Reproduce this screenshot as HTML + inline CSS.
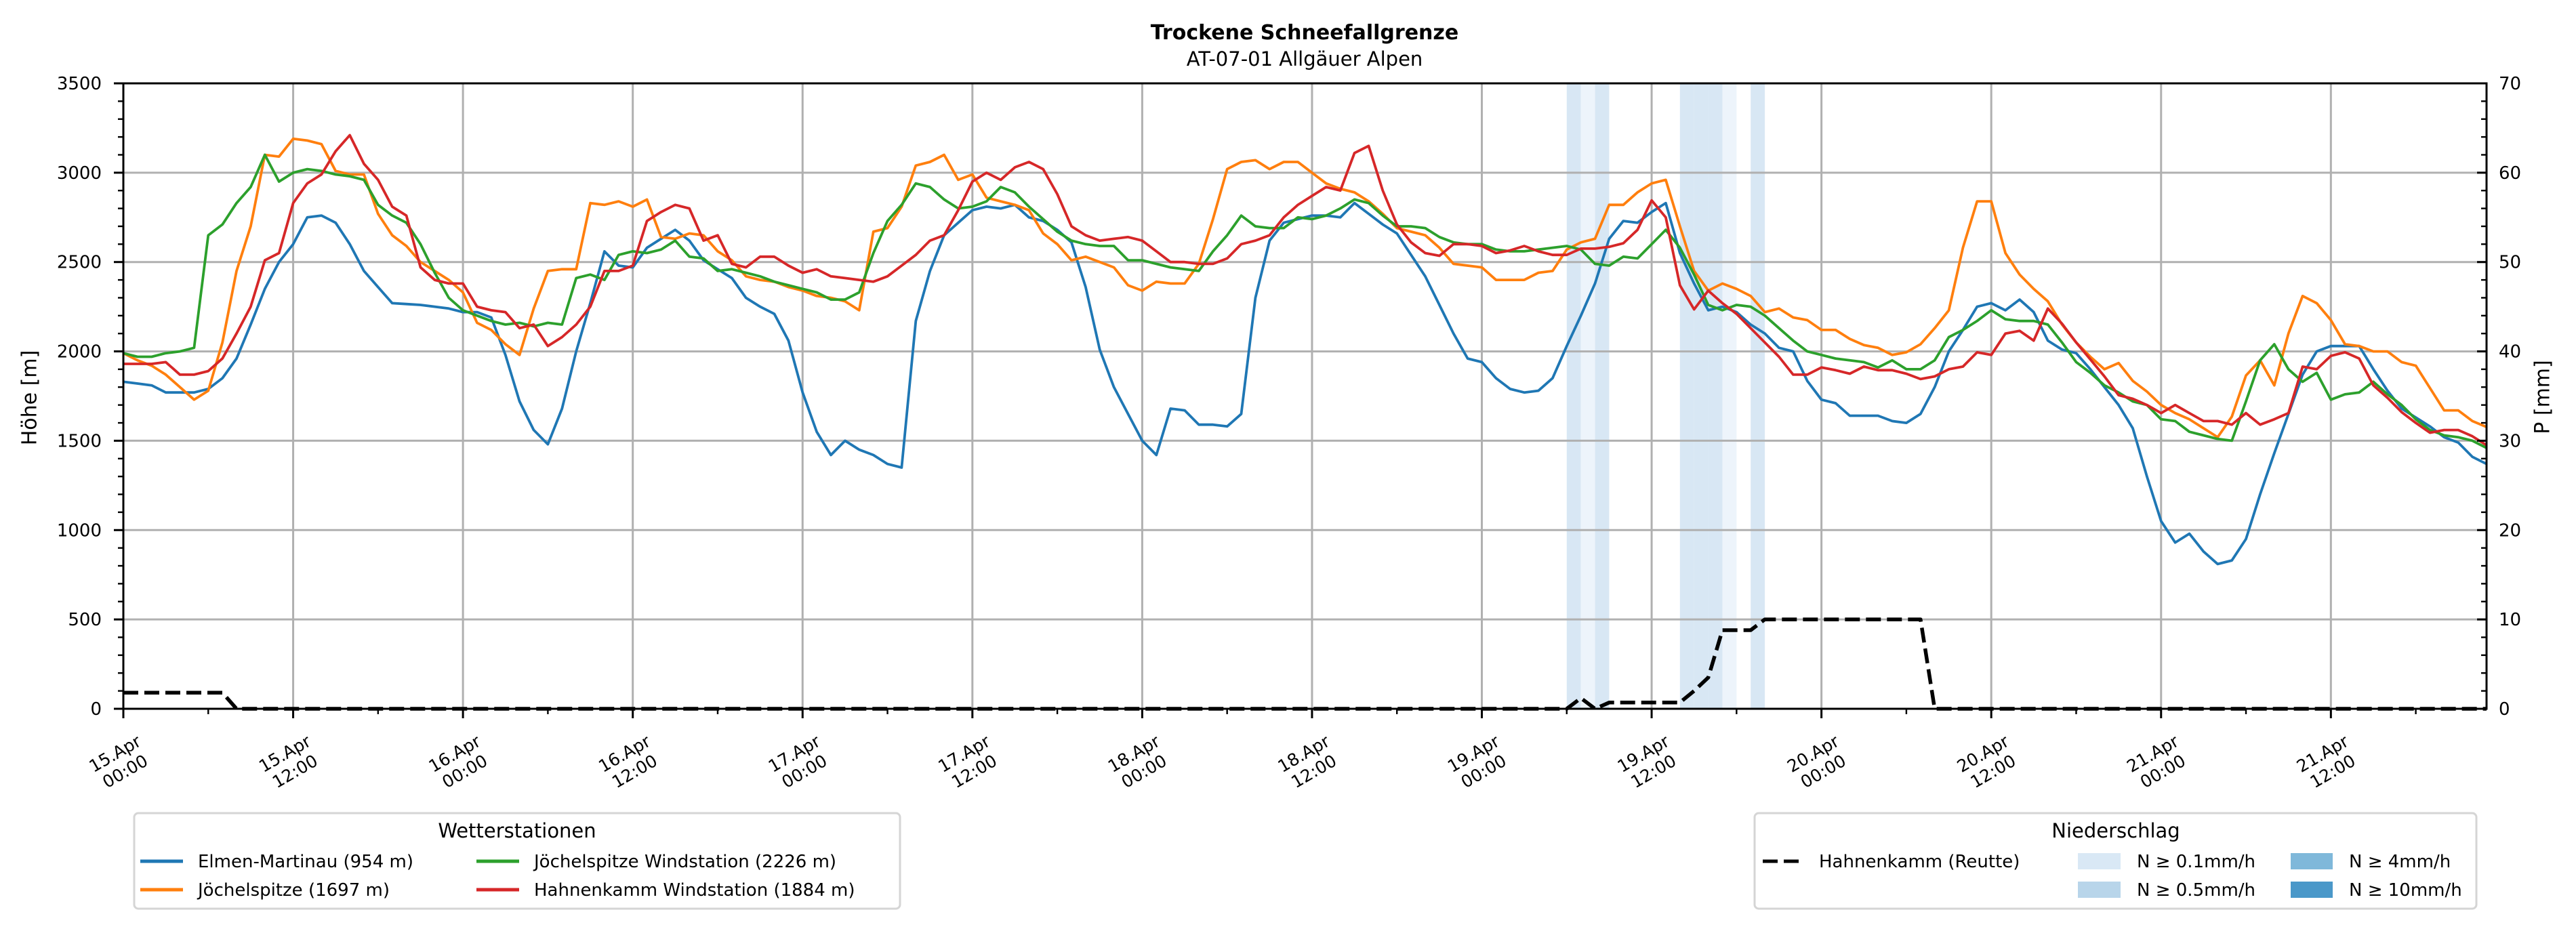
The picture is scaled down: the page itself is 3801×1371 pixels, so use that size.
<!DOCTYPE html>
<html><head><meta charset="utf-8">
<style>
html,body{margin:0;padding:0;background:#fff;}
svg{display:block;font-family:"DejaVu Sans","Liberation Sans",sans-serif;}
</style></head>
<body>
<svg id="chart" width="3801" height="1371" viewBox="0 0 3801 1371" xmlns="http://www.w3.org/2000/svg">
  <rect x="0" y="0" width="3801" height="1371" fill="#fff"/>
  <text x="1925" y="58" text-anchor="middle" font-size="30" font-weight="bold">Trockene Schneefallgrenze</text>
  <text x="1925" y="97" text-anchor="middle" font-size="29">AT-07-01 Allgäuer Alpen</text>
  <g id="bg"></g>
  <g id="grid"></g>
  <g id="series"></g>
  <g id="axes"></g>
  <text x="45" y="587" text-anchor="middle" dominant-baseline="middle" font-size="30" transform="rotate(-90 45 587)">Höhe [m]</text>
  <text x="3753" y="586" text-anchor="middle" dominant-baseline="middle" font-size="30" transform="rotate(-90 3753 586)">P [mm]</text>

  <g>
    <rect x="198" y="1200" width="1130" height="141" rx="6" fill="#fff" stroke="#d5d5d5" stroke-width="3"/>
    <text x="763" y="1236" text-anchor="middle" font-size="29">Wetterstationen</text>
    <g><line x1="207" y1="1271" x2="270" y2="1271" stroke="#1f77b4" stroke-width="5"/><text x="292" y="1280" font-size="26">Elmen-Martinau (954 m)</text></g>
    <g><line x1="207" y1="1313" x2="270" y2="1313" stroke="#ff7f0e" stroke-width="5"/><text x="292" y="1322" font-size="26">Jöchelspitze (1697 m)</text></g>
    <g><line x1="703" y1="1271" x2="766" y2="1271" stroke="#2ca02c" stroke-width="5"/><text x="788" y="1280" font-size="26">Jöchelspitze Windstation (2226 m)</text></g>
    <g><line x1="703" y1="1313" x2="766" y2="1313" stroke="#d62728" stroke-width="5"/><text x="788" y="1322" font-size="26">Hahnenkamm Windstation (1884 m)</text></g>
  </g>
  <g>
    <rect x="2589" y="1200" width="1065" height="141" rx="6" fill="#fff" stroke="#d5d5d5" stroke-width="3"/>
    <text x="3122" y="1236" text-anchor="middle" font-size="29">Niederschlag</text>
    <g><line x1="2601" y1="1271" x2="2657" y2="1271" stroke="#000" stroke-width="5" stroke-dasharray="22,9"/><text x="2684" y="1280" font-size="26">Hahnenkamm (Reutte)</text></g>
    <g><rect x="3066" y="1259" width="63" height="24" fill="#d9e8f5"/><text x="3153" y="1280" font-size="26">N ≥ 0.1mm/h</text></g>
    <g><rect x="3066" y="1301" width="63" height="24" fill="#b8d5ea"/><text x="3153" y="1322" font-size="26">N ≥ 0.5mm/h</text></g>
    <g><rect x="3380" y="1259" width="62" height="24" fill="#7fb8da"/><text x="3466" y="1280" font-size="26">N ≥ 4mm/h</text></g>
    <g><rect x="3380" y="1301" width="62" height="24" fill="#4a98c9"/><text x="3466" y="1322" font-size="26">N ≥ 10mm/h</text></g>
  </g>
</svg>
<script>
// ---- data (hourly from 15.Apr 00:00) ----
const elmen = [1830,1820,1810,1770,1770,1770,1790,1850,1960,2150,2350,2500,2600,2750,2760,2720,2600,2450,2360,2270,2265,2260,2250,2240,2220,2220,2190,1980,1720,1560,1480,1680,2000,2270,2560,2480,2470,2580,2630,2680,2620,2510,2460,2410,2300,2250,2210,2060,1770,1550,1420,1500,1450,1420,1370,1350,2170,2450,2650,2720,2790,2810,2800,2820,2750,2730,2680,2610,2360,2010,1800,1650,1500,1420,1680,1670,1590,1590,1580,1650,2300,2620,2720,2740,2760,2760,2750,2830,2770,2710,2660,2540,2420,2260,2100,1960,1940,1850,1790,1770,1780,1850,2030,2200,2380,2630,2730,2720,2780,2830,2550,2380,2230,2250,2220,2150,2100,2020,2000,1835,1730,1710,1640,1640,1640,1610,1600,1650,1800,2000,2120,2250,2270,2230,2290,2220,2060,2010,1990,1900,1800,1700,1570,1300,1050,930,980,880,810,830,950,1200,1430,1650,1870,2000,2030,2030,2030,1900,1780,1680,1630,1580,1520,1490,1410,1370];
const joechel = [1990,1950,1920,1870,1800,1730,1780,2050,2450,2700,3100,3090,3190,3180,3160,3010,2990,2990,2770,2650,2590,2500,2450,2400,2330,2160,2120,2040,1980,2240,2450,2460,2460,2830,2820,2840,2810,2850,2640,2630,2660,2650,2560,2510,2420,2400,2390,2360,2340,2310,2300,2280,2230,2670,2690,2810,3040,3060,3100,2960,2990,2860,2840,2820,2790,2660,2600,2510,2530,2500,2470,2370,2340,2390,2380,2380,2490,2740,3020,3060,3070,3020,3060,3060,3000,2940,2910,2890,2840,2770,2690,2670,2650,2580,2490,2480,2470,2400,2400,2400,2440,2450,2570,2610,2630,2820,2820,2890,2940,2960,2700,2450,2340,2380,2350,2310,2220,2240,2190,2175,2120,2120,2070,2035,2020,1980,1995,2040,2130,2230,2580,2840,2840,2550,2430,2350,2280,2150,2050,1970,1900,1935,1835,1775,1700,1655,1620,1570,1520,1635,1865,1950,1810,2100,2310,2270,2175,2040,2030,2000,2000,1940,1920,1795,1670,1670,1610,1577];
const joechelWind = [1990,1970,1970,1990,2000,2020,2650,2710,2830,2920,3100,2950,3000,3020,3010,2990,2980,2960,2820,2760,2720,2600,2440,2300,2230,2200,2170,2150,2160,2140,2160,2150,2410,2430,2400,2540,2560,2550,2570,2620,2530,2520,2450,2460,2440,2420,2390,2370,2350,2330,2290,2290,2330,2550,2730,2820,2940,2920,2850,2800,2810,2840,2920,2890,2810,2740,2670,2620,2600,2590,2590,2510,2510,2490,2470,2460,2450,2560,2650,2760,2700,2690,2690,2750,2740,2760,2800,2850,2830,2760,2700,2700,2690,2640,2610,2600,2600,2570,2560,2560,2570,2580,2590,2570,2490,2480,2530,2520,2600,2680,2580,2430,2260,2230,2260,2250,2200,2130,2060,2000,1980,1960,1950,1940,1910,1950,1900,1900,1950,2080,2120,2170,2230,2180,2170,2170,2150,2050,1940,1880,1810,1770,1720,1700,1620,1610,1550,1530,1510,1500,1720,1950,2040,1900,1830,1880,1730,1760,1770,1830,1760,1700,1620,1560,1530,1520,1500,1460];
const hahnWind = [1930,1930,1930,1940,1870,1870,1890,1960,2100,2250,2510,2550,2830,2940,2990,3120,3210,3050,2960,2810,2760,2470,2400,2380,2380,2250,2230,2220,2130,2150,2030,2080,2150,2250,2450,2450,2480,2730,2780,2820,2800,2620,2650,2490,2470,2530,2530,2480,2440,2460,2420,2410,2400,2390,2420,2480,2540,2620,2650,2790,2950,3000,2960,3030,3060,3020,2880,2700,2650,2620,2630,2640,2620,2560,2500,2500,2490,2490,2520,2600,2620,2650,2750,2820,2870,2920,2900,3110,3150,2900,2710,2610,2550,2535,2600,2600,2590,2550,2565,2590,2560,2540,2540,2575,2575,2585,2605,2680,2845,2750,2370,2235,2340,2270,2210,2130,2050,1970,1870,1870,1910,1895,1875,1915,1895,1895,1875,1845,1860,1900,1915,1995,1980,2100,2115,2060,2240,2155,2050,1955,1860,1755,1735,1700,1655,1700,1655,1610,1610,1590,1655,1590,1620,1655,1915,1900,1975,1995,1960,1810,1740,1660,1600,1545,1560,1560,1525,1475];
// cumulative precipitation Hahnenkamm (Reutte) in mm
const precip = [1.8,1.8,1.8,1.8,1.8,1.8,1.8,1.8,0,0,0,0,0,0,0,0,0,0,0,0,0,0,0,0,0,0,0,0,0,0,0,0,0,0,0,0,0,0,0,0,0,0,0,0,0,0,0,0,0,0,0,0,0,0,0,0,0,0,0,0,0,0,0,0,0,0,0,0,0,0,0,0,0,0,0,0,0,0,0,0,0,0,0,0,0,0,0,0,0,0,0,0,0,0,0,0,0,0,0,0,0,0,0,1.2,0,0.7,0.7,0.7,0.7,0.7,0.7,2.0,3.5,8.8,8.8,8.8,10,10,10,10,10,10,10,10,10,10,10,10,0,0,0,0,0,0,0,0,0,0,0,0,0,0,0,0,0,0,0,0,0,0,0,0,0,0,0,0,0,0,0,0,0,0,0,0,0,0,0,0];
// hourly precipitation intensity spans (start hour, mm/h)
const rainHours = [102,103,104,110,111,112,113,115];
const rainRate  = [0.3,0.05,0.3,0.3,0.3,0.3,0.05,0.3];
const yTicks = [0,500,1000,1500,2000,2500,3000,3500];
const y2Ticks = [0,10,20,30,40,50,60,70];
const xTickDays = ["15.Apr","15.Apr","16.Apr","16.Apr","17.Apr","17.Apr","18.Apr","18.Apr","19.Apr","19.Apr","20.Apr","20.Apr","21.Apr","21.Apr"];
const xTickTimes = ["00:00","12:00","00:00","12:00","00:00","12:00","00:00","12:00","00:00","12:00","00:00","12:00","00:00","12:00"];

// ---- scales ----
const L=182,R=3669,T=123,B=1046, H0=0,H1=167;
const x = h => L + (h-H0)/(H1-H0)*(R-L);
const y = v => B - v/3500*(B-T);
const y2 = v => B - v/70*(B-T);
const NS="http://www.w3.org/2000/svg";
function mk(tag, attrs, parent){const e=document.createElementNS(NS,tag);for(const k in attrs)e.setAttribute(k,attrs[k]);parent.appendChild(e);return e;}
const bg=document.getElementById('bg'), grid=document.getElementById('grid'), ser=document.getElementById('series'), axes=document.getElementById('axes');

// rain spans
rainHours.forEach((h,i)=>{
  const r=mk('rect',{x:x(h),y:T,width:x(h+1)-x(h),height:B-T,fill:rainRate[i]>=0.1?'#d8e7f4':'#edf4fb'},bg);
  
  
});
// grid
yTicks.forEach(v=>{ if(v>0&&v<3500){const g=mk('line',{x1:L,x2:R,y1:y(v),y2:y(v),stroke:'#b0b0b0','stroke-width':3},grid);
  
  }});
for(let h=12;h<H1;h+=12){const g=mk('line',{x1:x(h),x2:x(h),y1:T,y2:B,stroke:'#b0b0b0','stroke-width':3},grid);
  
  }

// series
function line(arr, scale, color, name, dash){
  const d=arr.map((v,i)=>(i?'L':'M')+x(i).toFixed(1)+' '+scale(v).toFixed(1)).join(' ');
  const p=mk('path',{d:d,fill:'none',stroke:color,'stroke-width':dash?5.5:3.8,'stroke-linejoin':'round'},ser);
  if(dash)p.setAttribute('stroke-dasharray',dash);
  
  
}
line(elmen,y,'#1f77b4','elmen-line');
line(joechel,y,'#ff7f0e','joechelspitze-line');
line(joechelWind,y,'#2ca02c','joechelspitze-wind-line');
line(hahnWind,y,'#d62728','hahnenkamm-wind-line');
line(precip,y2,'#000','hahnenkamm-precip-line','22,9');

// axes frame
const fr=mk('rect',{x:L,y:T,width:R-L,height:B-T,fill:'none',stroke:'#000','stroke-width':3},axes);


// left ticks
for(let v=0;v<=3500;v+=100){const maj=v%500===0;mk('line',{x1:L-(maj?14:8),x2:L,y1:y(v),y2:y(v),stroke:'#000','stroke-width':maj?3:2.4},axes);}
yTicks.forEach(v=>{const t=mk('text',{x:150,y:y(v)+9,'text-anchor':'end','font-size':26},axes);t.textContent=v;
  
  });
// right ticks (inward)
for(let v=0;v<=70;v+=2){const maj=v%10===0;mk('line',{x1:R-(maj?14:8),x2:R,y1:y2(v),y2:y2(v),stroke:'#000','stroke-width':maj?3:2.4},axes);}
y2Ticks.forEach(v=>{const t=mk('text',{x:3687,y:y2(v)+9,'font-size':26},axes);t.textContent=v;
  
  });
// x ticks
for(let h=0;h<=H1;h+=6){const maj=h%12===0;mk('line',{x1:x(h),x2:x(h),y1:B,y2:B+(maj?14:8),stroke:'#000','stroke-width':maj?3:2.4},axes);}
xTickDays.forEach((d,i)=>{
  const cx=x(i*12)-5, cy=1125;
  const t=mk('text',{x:cx,y:cy,'text-anchor':'middle','font-size':25,transform:`rotate(-30 ${cx} ${cy})`},axes);
  
  
  const a=mk('tspan',{x:cx,dy:-6},t);a.textContent=d;
  const b=mk('tspan',{x:cx,dy:30},t);b.textContent=xTickTimes[i];
});
</script>
</body></html>
